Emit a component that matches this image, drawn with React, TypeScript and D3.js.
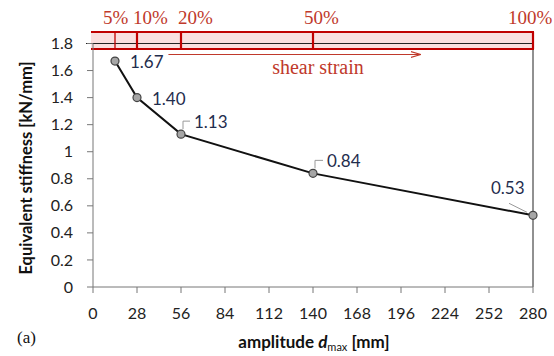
import { useEffect, useRef } from 'react';
import * as d3 from 'd3';

const amplitudes = [14, 28, 56, 140, 280];
const stiffness = [1.67, 1.4, 1.13, 0.84, 0.53];
const stiffnessLabels = ['1.67', '1.40', '1.13', '0.84', '0.53'];
const xTicks = [0, 28, 56, 84, 112, 140, 168, 196, 224, 252, 280];
const yTicks = [0, 0.2, 0.4, 0.6, 0.8, 1, 1.2, 1.4, 1.6, 1.8];
const strainTicks = [14, 28, 56, 140, 280];
const strainLabels = ['5%', '10%', '20%', '50%', '100%'];

// label placement tweaks (relative to point / tick)
const labelNudge = [
  { dx: 15, dy: 1, leader: false },
  { dx: 15, dy: 1, leader: false },
  { dx: 13, dy: -12, leader: true },
  { dx: 14, dy: -12, leader: true },
  { dx: -42, dy: -27, leader: true },
];
const strainNudge = [-12, -4, -3, -9, -25];

const W = 554;
const H = 356;
const RED = '#c00000';
const RED_TEXT = '#c0392b';
const FONT = 'Lato, "Open Sans", sans-serif';
const SERIF = '"Liberation Serif", "DejaVu Serif", serif';

export default function App() {
  const svgRef = useRef<SVGSVGElement>(null);

  useEffect(() => {
    if (!svgRef.current) return;
    const svg = d3.select(svgRef.current);
    svg.selectAll('*').remove();

    const x = d3.scaleLinear().domain([0, 280]).range([93, 533]);
    const y = d3.scaleLinear().domain([0, 1.8]).range([287, 43.5]);

    // plot frame
    svg.append('line')
      .attr('x1', x(280)).attr('x2', x(280))
      .attr('y1', y(1.8)).attr('y2', y(0))
      .attr('stroke', '#222').attr('stroke-width', 1);

    // strain strip
    const stripTop = 32;
    const stripBot = 49;
    svg.append('rect')
      .attr('x', x(0) - 2).attr('y', stripTop)
      .attr('width', x(280) - x(0) + 3).attr('height', stripBot - stripTop)
      .attr('fill', '#f9dfdf');
    svg.append('line')
      .attr('x1', x(0) - 7).attr('x2', x(280))
      .attr('y1', y(1.8)).attr('y2', y(1.8))
      .attr('stroke', '#222').attr('stroke-width', 1);
    [stripTop, stripBot].forEach(yy => {
      svg.append('line')
        .attr('x1', x(0) - 2).attr('x2', x(280) + 1)
        .attr('y1', yy).attr('y2', yy)
        .attr('stroke', RED).attr('stroke-width', 2.2);
    });
    svg.selectAll('.strain-tick')
      .data(strainTicks)
      .enter()
      .append('line')
      .attr('x1', d => x(d)).attr('x2', d => x(d))
      .attr('y1', stripTop).attr('y2', stripBot)
      .attr('stroke', RED).attr('stroke-width', (d, i) => (i === 0 ? 1.3 : 2.2));
    svg.selectAll('.strain-label')
      .data(strainTicks)
      .enter()
      .append('text')
      .attr('x', (d, i) => x(d) + strainNudge[i])
      .attr('y', 24)
      .attr('font-family', SERIF)
      .attr('font-size', 19)
      .attr('fill', RED_TEXT)
      .text((d, i) => strainLabels[i]);

    // shear strain arrow
    const defs = svg.append('defs');
    defs.append('marker')
      .attr('id', 'arr')
      .attr('viewBox', '0 0 10 10')
      .attr('refX', 9).attr('refY', 5)
      .attr('markerWidth', 10).attr('markerHeight', 10)
      .attr('markerUnits', 'userSpaceOnUse')
      .attr('orient', 'auto')
      .append('path')
      .attr('d', 'M0,2 L10,5 L0,8')
      .attr('fill', 'none')
      .attr('stroke', RED_TEXT)
      .attr('stroke-width', 1.2);
    svg.append('line')
      .attr('x1', x(48)).attr('x2', x(208))
      .attr('y1', 54.5).attr('y2', 54.5)
      .attr('stroke', RED_TEXT).attr('stroke-width', 1)
      .attr('marker-end', 'url(#arr)');
    svg.append('text')
      .attr('x', 318).attr('y', 74)
      .attr('text-anchor', 'middle')
      .attr('font-family', SERIF)
      .attr('font-size', 20)
      .attr('fill', RED_TEXT)
      .text('shear strain');

    // y axis
    svg.append('line')
      .attr('x1', x(0)).attr('x2', x(0))
      .attr('y1', y(1.8)).attr('y2', y(0))
      .attr('stroke', '#777');
    svg.selectAll('.y-tick')
      .data(yTicks)
      .enter()
      .append('line')
      .attr('x1', x(0) - 6).attr('x2', x(0))
      .attr('y1', d => y(d)).attr('y2', d => y(d))
      .attr('stroke', '#777');
    svg.selectAll('.y-label')
      .data(yTicks)
      .enter()
      .append('text')
      .attr('x', 73)
      .attr('y', d => y(d))
      .attr('dy', '0.35em')
      .attr('text-anchor', 'end')
      .attr('font-family', FONT)
      .attr('font-size', 16)
      .attr('fill', '#222')
      .text(d => d3.format('~g')(d));

    // x axis
    svg.append('line')
      .attr('x1', x(0)).attr('x2', x(280))
      .attr('y1', y(0)).attr('y2', y(0))
      .attr('stroke', '#777');
    svg.selectAll('.x-tick')
      .data(xTicks)
      .enter()
      .append('line')
      .attr('x1', d => x(d)).attr('x2', d => x(d))
      .attr('y1', y(0)).attr('y2', y(0) + 6)
      .attr('stroke', '#777');
    svg.selectAll('.x-label')
      .data(xTicks)
      .enter()
      .append('text')
      .attr('x', d => x(d))
      .attr('y', 313)
      .attr('dy', '0.35em')
      .attr('text-anchor', 'middle')
      .attr('font-family', FONT)
      .attr('font-size', 16)
      .attr('fill', '#222')
      .text(d => String(d));

    // axis titles
    const xt = svg.append('text')
      .attr('x', 314).attr('y', 348)
      .attr('text-anchor', 'middle')
      .attr('font-family', FONT)
      .attr('font-size', 17)
      .attr('font-weight', 700)
      .attr('fill', '#111');
    xt.append('tspan').text('amplitude ');
    xt.append('tspan').attr('font-style', 'italic').text('d');
    xt.append('tspan').attr('font-size', 11).attr('font-weight', 400).attr('dy', 3).text('max');
    xt.append('tspan').attr('dy', -3).text(' [mm]');

    svg.append('text')
      .attr('transform', `translate(26, 168) rotate(-90)`)
      .attr('dy', '0.35em')
      .attr('text-anchor', 'middle')
      .attr('font-family', FONT)
      .attr('font-size', 16.5)
      .attr('font-weight', 700)
      .attr('fill', '#111')
      .text('Equivalent stiffness [kN/mm]');

    svg.append('text')
      .attr('x', 17).attr('y', 343)
      .attr('font-family', SERIF)
      .attr('font-size', 17)
      .attr('fill', '#111')
      .text('(a)');

    // series
    const pts = amplitudes.map((a, i) => ({ a, k: stiffness[i], i }));
    const line = d3.line<{ a: number; k: number }>()
      .x(d => x(d.a))
      .y(d => y(d.k));
    svg.append('path')
      .datum(pts)
      .attr('fill', 'none')
      .attr('stroke', '#111')
      .attr('stroke-width', 2)
      .attr('d', line);

    // leader lines
    pts.forEach(p => {
      const n = labelNudge[p.i];
      if (!n.leader) return;
      const px = x(p.a);
      const py = y(p.k);
      const path = n.dx > 0
        ? `M${px + 2},${py - 5} L${px + 2},${py + n.dy - 1} L${px + n.dx - 4},${py + n.dy - 1}`
        : `M${px - 6},${py - 3} L${px - 24},${py - 12}`;
      svg.append('path')
        .attr('d', path)
        .attr('fill', 'none')
        .attr('stroke', '#999')
        .attr('stroke-width', 1);
    });

    svg.selectAll('.pt')
      .data(pts)
      .enter()
      .append('circle')
      .attr('cx', d => x(d.a))
      .attr('cy', d => y(d.k))
      .attr('r', 4)
      .attr('fill', '#a6a6a6')
      .attr('stroke', '#444')
      .attr('stroke-width', 1.2);

    svg.selectAll('.pt-label')
      .data(pts)
      .enter()
      .append('text')
      .attr('x', d => x(d.a) + labelNudge[d.i].dx)
      .attr('y', d => y(d.k) + labelNudge[d.i].dy)
      .attr('dy', '0.35em')
      .attr('font-family', FONT)
      .attr('font-size', 17)
      .attr('fill', '#1f2d4d')
      .text(d => stiffnessLabels[d.i]);
  }, []);

  return (
    <svg
      ref={svgRef}
      width={W}
      height={H}
      style={{ position: 'absolute', left: 0, top: 0, background: '#fff' }}
    />
  );
}
